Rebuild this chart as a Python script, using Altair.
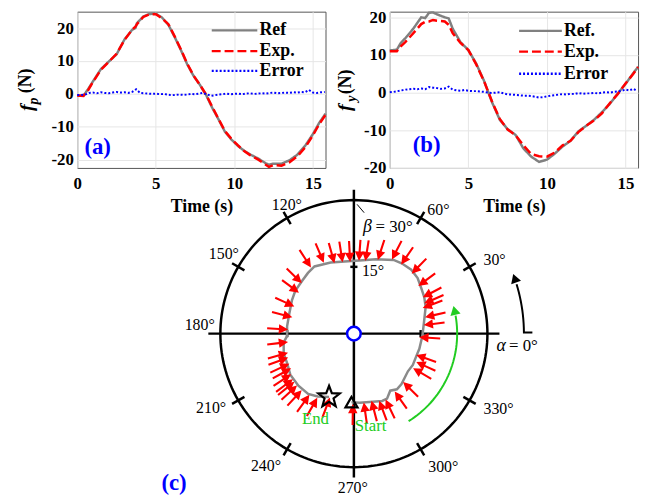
import numpy as np
import pandas as pd
import altair as alt

FONT = "Liberation Serif"

# ---------------- panel (a): f_p ----------------
A_T = [0.0, 0.4, 0.7, 1.0, 1.5, 2.0, 2.5, 3.0, 3.5, 3.7, 3.8, 4.2, 4.6, 5.0, 5.4, 5.8, 6.2, 6.6, 7.0, 7.4,
       7.8, 8.2, 8.6, 9.0, 9.4, 9.8, 10.2, 10.6, 11.0, 11.5, 12.0, 12.2, 12.5, 13.0, 13.5, 14.0, 14.5, 15.0, 15.4, 15.8]
A_REF = [-0.5, -0.5, 1.5, 3.8, 7.5, 9.8, 12.0, 16.5, 19.5, 20.0, 21.5, 23.5, 24.3, 24.4, 23.2, 21.0, 17.3, 13.3, 9.0, 5.5,
         2.8, -0.3, -4.3, -7.8, -11.5, -13.8, -15.7, -17.2, -18.4, -19.6, -21.1, -21.5, -21.2, -21.2, -20.2, -18.5, -15.8, -12.2, -8.8, -6.0]
A_EXP = [-0.5, -0.6, 1.2, 3.6, 7.3, 9.7, 12.2, 16.3, 19.6, 20.4, 21.2, 23.4, 24.2, 24.2, 23.0, 21.2, 17.5, 13.5, 9.2, 5.6,
         2.8, -0.2, -4.0, -7.7, -11.3, -13.6, -15.5, -17.3, -18.6, -19.9, -21.5, -22.2, -21.6, -21.8, -20.8, -19.0, -16.3, -12.6, -9.2, -6.4]
A_ERR = [-0.3, -0.3, -0.2, 0.3, 0.4, 0.2, 0.5, 0.3, 0.2, 0.4, 0.6, 0.4, 0.5, 0.3, 0.6, 1.4, 0.3, 0.2, 0.1, 0.0,
         0.1, -0.1, 0.0, -0.2, -0.4, -0.3, -0.2, -0.3, -0.2, 0.0, -0.1, 0.1, 0.3, -0.1, -0.6, -0.4, -0.2, -0.1, 0.1, -0.1,
         0.0, 0.1, -0.1, 0.1, 0.2, 0.0, 0.1, 0.2, 0.1, 0.3, 0.4, 0.2, 0.3, 0.4, 0.3, 0.5, 0.4, 0.6, 0.5, 1.2,
         0.4, 0.3, 0.5, 0.6]

# ---------------- panel (b): f_y ----------------
B_T = [0.0, 0.45, 0.7, 1.0, 1.5, 2.0, 2.25, 2.5, 2.75, 3.0, 3.5, 3.75, 4.0, 4.5, 5.0, 5.5, 6.0, 6.5, 7.0, 7.5,
       8.0, 8.5, 9.0, 9.5, 10.0, 10.5, 11.0, 11.5, 12.0, 12.5, 13.0, 13.5, 14.0, 14.5, 15.0, 15.5, 15.8]
B_REF = [11.2, 11.4, 13.2, 14.5, 17.0, 20.0, 19.8, 21.2, 21.3, 20.8, 20.0, 19.7, 17.0, 13.4, 11.3, 7.7, 3.1, -2.5, -7.2, -9.7,
         -11.2, -14.8, -17.0, -18.4, -17.8, -16.2, -14.3, -12.8, -10.3, -8.8, -7.2, -5.2, -3.0, -0.3, 2.3, 5.2, 6.8]
B_EXP = [11.0, 11.0, 12.3, 13.5, 15.8, 18.2, 18.8, 18.9, 19.3, 19.1, 18.9, 18.0, 15.8, 13.2, 11.3, 7.5, 3.0, -2.3, -7.0, -9.8,
         -11.3, -14.0, -16.3, -16.9, -17.0, -15.9, -14.0, -12.8, -10.5, -8.8, -7.4, -5.5, -2.8, -0.4, 2.4, 5.0, 6.8]
B_ERR = [0.1, 0.2, 0.4, 0.6, 0.8, 0.9, 1.0, 0.9, 1.1, 0.9, 1.5, 1.3, 1.2, 1.0, 1.1, 1.6, 0.8, 0.6, 0.5, 0.7,
         0.5, 0.4, 0.4, 0.3, 0.2, 0.0, -0.1, 0.0, 0.1, -0.2, -0.5, -0.5, -0.6, -0.7, -0.8, -0.8, -0.9, -1.1, -1.3, -1.2,
         -1.0, -0.8, -0.7, -0.5, -0.4, -0.5, -0.3, -0.4, -0.1, -0.3, -0.2, -0.2, -0.1, -0.2, 0.0, 0.1, 0.0, 0.2, 0.3, 0.5,
         0.8, 0.6, 1.0, 0.4]
ERR_DT = 0.25

A_NAMES = ["Ref", "Exp.", "Error"]
B_NAMES = ["Ref.", "Exp.", "Error"]
COLORS = ["#808080", "#ff0000", "#0000ff"]
DASHES = [[1, 0], [9, 4], [2, 2]]
WIDTHS = [2.5, 2.5, 2.0]

# ---------------- panel (c): polar trajectory (alpha, beta in degrees) ----------------
CURVE_ALPHA = [268, 274.8, 292.8, 297, 302.5, 307.7, 313.3, 325.1, 332, 339.5, 346.9, 358.1, 9.8, 20.4, 27.4, 34.5,
               41.1, 48.1, 55.8, 61.7, 73.6, 83, 91.8, 108.1, 120.4, 127.1, 134.8, 143.9, 151.8, 162.5, 173.7, 182,
               187.1, 196, 204, 212.8, 223.2, 232.8, 240.1, 248.6]
CURVE_BETA = [15.4, 15.6, 16.4, 16.4, 15.2, 15.8, 15.6, 14.8, 15.0, 14.9, 15.1, 15.4, 16.0, 17.2, 17.8, 18.3,
              19.0, 19.3, 19.1, 18.8, 17.4, 16.6, 16.3, 16.8, 17.5, 17.1, 16.6, 16.3, 15.8, 15.2, 15.1, 15.0,
              15.9, 16.4, 16.4, 17.0, 17.1, 17.0, 16.3, 15.3]
ARROW_ALPHA = [123, 113, 105.5, 99, 93, 86, 81, 72, 62.8, 55.6, 46, 36.5, 27.8, 23.3, 20.5, 13, 7, 356.8, 341, 335.5,
               329.7, 315.5, 305.2, 295.7, 290.7, 284.7, 278.2, 269.2, 135.9, 143.3, 155.5, 165.2, 176.5, 187.2, 196.2, 200,
               205, 208.9, 213, 216.8, 219, 222.4, 227.3, 234, 240.3, 249.4]
ARROW_BETA = [18.4, 18.0, 17.1, 16.9, 16.8, 17.1, 17.2, 18.1, 19.4, 19.5, 19.4, 18.7, 18.2, 17.9, 17.2, 17.1, 16.5, 15.4, 15.5, 16.1,
              16.1, 16.2, 16.6, 17.1, 16.8, 16.3, 16.3, 16.5, 17.0, 16.1, 15.4, 15.0, 15.5, 15.6, 16.1, 16.4,
              16.7, 16.8, 17.5, 17.8, 17.9, 18.0, 18.0, 17.7, 17.3, 16.0]
OUTER_BETA = 30
TICK_ALPHA = [30, 60, 120, 150, 210, 240, 300, 330]
LABEL_TEXT = ["30°", "60°", "120°", "150°", "180°", "210°", "240°", "270°", "300°", "330°"]
LABEL_ALPHA = [27.7, 55.6, 117.6, 148.4, 176.7, 207.6, 236.5, 269.6, 303.9, 332.6]
LABEL_R = [35.7, 33.6, 32.5, 34.3, 34.7, 36.2, 35.8, 34.6, 36.0, 36.6]


def xy(alpha, beta):
    a = np.radians(np.asarray(alpha, dtype=float))
    b = np.asarray(beta, dtype=float)
    return b * np.cos(a), b * np.sin(a)


# ================= top panels =================
PW, PH = 251, 158


def top_panel(t, ref, exp, err, names, ydom, leg, tag, tag_xy, sub, ttl):
    d = pd.concat([
        pd.DataFrame({"t": t, "v": ref, "series": names[0]}),
        pd.DataFrame({"t": t, "v": exp, "series": names[1]}),
        pd.DataFrame({"t": [i * ERR_DT for i in range(len(err))], "v": err, "series": names[2]}),
    ], ignore_index=True)
    xs = alt.Scale(domain=[0, 15.8], nice=False, zero=False)
    ys = alt.Scale(domain=ydom, nice=False, zero=False)
    common = dict(grid=True, gridColor="#e6e6e6", gridWidth=1, domain=False, ticks=False, tickSize=0,
                  labelFont=FONT, labelFontSize=17, labelFontWeight="bold", labelColor="black")
    xenc = alt.X("t:Q", scale=xs, axis=alt.Axis(values=[0, 5, 10, 15], title="Time (s)", labelPadding=8,
                                                 titleFont=FONT, titleFontSize=18, titleFontWeight="bold",
                                                 titleColor="black", titlePadding=6, labelFlush=False, **common))
    yenc = alt.Y("v:Q", scale=ys, axis=alt.Axis(values=[-20, -10, 0, 10, 20], title=None, labelPadding=4,
                                                 labelExpr="datum.value < 0 ? '-' + abs(datum.value) : '' + datum.value",
                                                 **common))
    base = alt.Chart(d).encode(x=xenc, y=yenc)
    layers = [base.transform_filter(alt.datum.series == n).mark_line(color=c, strokeDash=sd, strokeWidth=w)
              for n, c, sd, w in zip(names, COLORS, DASHES, WIDTHS)]

    def txt(x, y, s, **kw):
        return alt.Chart(pd.DataFrame({"t": [x], "v": [y], "s": [s]})).mark_text(font=FONT, **kw).encode(
            x=xenc, y=yenc, text="s:N")

    # legend (inside the box, top right)
    lx1, lx2, ltx, lys = leg
    for n, c, sd, yy in zip(names, COLORS, DASHES, lys):
        rd = pd.DataFrame({"t": [lx1], "t2": [lx2], "v": [yy]})
        layers.append(alt.Chart(rd).mark_rule(color=c, strokeDash=sd, strokeWidth=2.4).encode(
            x=xenc, x2="t2:Q", y=yenc))
        layers.append(txt(ltx, yy, n, align="left", fontSize=18, fontWeight="bold", color="black"))

    layers.append(txt(tag_xy[0], tag_xy[1], tag, fontSize=23, fontWeight="bold", color="#0000ff"))
    # y-axis title: italic f with subscript, then (N)
    layers.append(txt(ttl[0][0], ttl[0][1], "f", angle=270, fontSize=20, fontStyle="italic", fontWeight="bold", color="black"))
    layers.append(txt(ttl[1][0], ttl[1][1], sub, angle=270, fontSize=14, fontStyle="italic", fontWeight="bold", color="black"))
    layers.append(txt(ttl[2][0], ttl[2][1], "(N)", angle=270, fontSize=18, fontWeight="bold", color="black"))
    return alt.layer(*layers).properties(width=PW, height=PH,
                                         view=alt.ViewBackground(stroke="#555555", strokeWidth=1))


pa = top_panel(A_T, A_REF, A_EXP, A_ERR, A_NAMES, [-22.5, 25],
               (8.56, 11.46, 11.6, [19.3, 13.0, 7.0]), "(a)", (1.3, -16.2), "p",
               [(-3.18, -4.2), (-2.72, -2.2), (-3.24, 3.95)])
pb = top_panel(B_T, B_REF, B_EXP, B_ERR, B_NAMES, [-20, 21.5],
               (8.23, 10.95, 11.08, [16.4, 10.9, 5.0]), "(b)", (2.34, -14.0), "y",
               [(-2.87, -3.98), (-2.43, -1.6), (-2.8, 2.85)])

# ================= polar panel =================
K = 4.5            # pixels per degree of beta
CW, CH = 251, 310  # polar view box
X0 = -(354.7 - 75) / K
Y1 = (333.5 - 178) / K
pxs = alt.Scale(domain=[X0, X0 + CW / K], nice=False, zero=False)
pys = alt.Scale(domain=[Y1 - CH / K, Y1], nice=False, zero=False)


def PX(f):
    return alt.X(f, scale=pxs, axis=None)


def PY(f):
    return alt.Y(f, scale=pys, axis=None)


def pline(xv, yv, **kw):
    d = pd.DataFrame({"x": xv, "y": yv, "i": np.arange(len(xv))})
    return alt.Chart(d).mark_line(**kw).encode(x=PX("x:Q"), y=PY("y:Q"), order="i:Q")


def prules(x1, y1, x2, y2, **kw):
    d = pd.DataFrame({"x": x1, "y": y1, "x2": x2, "y2": y2})
    return alt.Chart(d).mark_rule(**kw).encode(x=PX("x:Q"), y=PY("y:Q"), x2="x2:Q", y2="y2:Q")


def ptext(xv, yv, s, **kw):
    d = pd.DataFrame({"x": np.atleast_1d(xv), "y": np.atleast_1d(yv), "s": np.atleast_1d(s)})
    return alt.Chart(d).mark_text(font=FONT, **kw).encode(x=PX("x:Q"), y=PY("y:Q"), text="s:N")


def ppoint(xv, yv, **kw):
    d = pd.DataFrame({"x": np.atleast_1d(xv), "y": np.atleast_1d(yv)})
    return alt.Chart(d).mark_point(opacity=1, **kw).encode(x=PX("x:Q"), y=PY("y:Q"))


layers = []
ang = np.arange(0, 361, 2)
cxv, cyv = xy(ang, np.full(ang.shape, float(OUTER_BETA)))
layers.append(pline(cxv, cyv, color="black", strokeWidth=2.5))
layers.append(prules([-32.7, 0], [0, -32.3], [32.7, 0], [0, 32.3], color="black", strokeWidth=2.5))
tx1, ty1 = xy(TICK_ALPHA, np.full(len(TICK_ALPHA), 28.4))
tx2, ty2 = xy(TICK_ALPHA, np.full(len(TICK_ALPHA), 31.6))
layers.append(prules(tx1, ty1, tx2, ty2, color="black", strokeWidth=2.5))
layers.append(prules([-0.8, -15, 15], [15, -0.8, -0.8], [0.8, -15, 15], [15, 0.8, 0.8], color="black", strokeWidth=2.5))
lx, ly = xy(LABEL_ALPHA, LABEL_R)
layers.append(ptext(lx, ly, LABEL_TEXT, fontSize=16, color="black"))
# labels on the axes
layers.append(ptext(1.8, 14.0, "15°", fontSize=16, align="left", color="black"))
layers.append(prules([0.72], [29.04], [2.3], [27.17], color="black", strokeWidth=1))
layers.append(ptext(3.04, 24.0, "β", fontSize=18, fontStyle="italic", color="black"))
layers.append(ptext(4.85, 24.0, "= 30°", fontSize=17, align="left", color="black"))
layers.append(ptext(33.1, -2.76, "α", fontSize=18, fontStyle="italic", color="black"))
layers.append(ptext(34.85, -2.76, "= 0°", fontSize=17, align="left", color="black"))

# reference trajectory
ux, uy = xy(CURVE_ALPHA, CURVE_BETA)
layers.append(pline(ux, uy, color="#8a8a8a", strokeWidth=2.5))

# force arrows (pointing inward, tip at the trajectory)
ARROW_PATH = "M-0.1,1L0.1,1L0.1,-0.12L0.45,-0.12L0,-1L-0.45,-0.12L-0.1,-0.12Z"
ALEN = 15 / K
ax, ay = xy(ARROW_ALPHA, np.asarray(ARROW_BETA) + ALEN / 2)
adf = pd.DataFrame({"x": ax, "y": ay, "ang": (270 - np.asarray(ARROW_ALPHA, float)) % 360})
layers.append(alt.Chart(adf).mark_point(shape=ARROW_PATH, size=450, filled=True, color="#ff0000",
                                        strokeWidth=0, opacity=1).encode(
    x=PX("x:Q"), y=PY("y:Q"), angle=alt.Angle("ang:Q", scale=None)))

# green direction arc
garc = np.arange(-58, 11, 2)
gx, gy = xy(garc, np.full(garc.shape, 23.2))
layers.append(pline(gx, gy, color="#22cc22", strokeWidth=2))
hx, hy = xy([13.0], [23.2])
layers.append(ppoint(hx, hy, shape="triangle-up", size=110, filled=True, color="#22cc22",
                     angle=(90 - (13.0 + 90)) % 360))
# black alpha arc with hook
barc = np.arange(0.4, 17.5, 1.5)
bx, by = xy(barc, np.full(barc.shape, 38.2))
layers.append(pline(np.concatenate([[40.1], bx]), np.concatenate([[0.25], by]), color="black", strokeWidth=2))
kx, ky = xy([19.0], [38.2])
layers.append(ppoint(kx, ky, shape="triangle-up", size=110, filled=True, color="black",
                     angle=(90 - (19.0 + 90)) % 360))

# centre, start, end
layers.append(ppoint(0, 0, shape="circle", size=190, fill="white", stroke="#0000ff", strokeWidth=2.5, filled=True))
pts = []
for kk in range(10):
    r = 1.0 if kk % 2 == 0 else 0.42
    a = -np.pi / 2 + kk * np.pi / 5
    pts.append(f"{r * np.cos(a):.3f},{r * np.sin(a):.3f}")
STAR = "M" + "L".join(pts) + "Z"
layers.append(ppoint(ux[-1], uy[-1], shape=STAR, size=520, filled=False, color="black", strokeWidth=2.2))
layers.append(ppoint(ux[0], uy[0], shape="triangle-up", size=150, filled=False, color="black", strokeWidth=2.2))
layers.append(ptext(-8.63, -19.28, "End", fontSize=17, color="#22cc22"))
layers.append(ptext(3.76, -20.8, "Start", fontSize=17, color="#22cc22"))
layers.append(ptext(-40.4, -33.5, "(c)", fontSize=23, fontWeight="bold", color="#0000ff"))

polar = alt.layer(*layers).properties(width=CW, height=CH,
                                      view=alt.ViewBackground(stroke="transparent"))

chart = alt.concat(pa, pb, polar, columns=2, spacing={"row": 12, "column": 65}, bounds="flush").resolve_scale(
    x="independent", y="independent"
).properties(
    padding={"left": 8, "top": -4, "right": 0, "bottom": 0}
).configure(background="white")

chart.save("out.html", embed_options={"renderer": "svg", "actions": False})
